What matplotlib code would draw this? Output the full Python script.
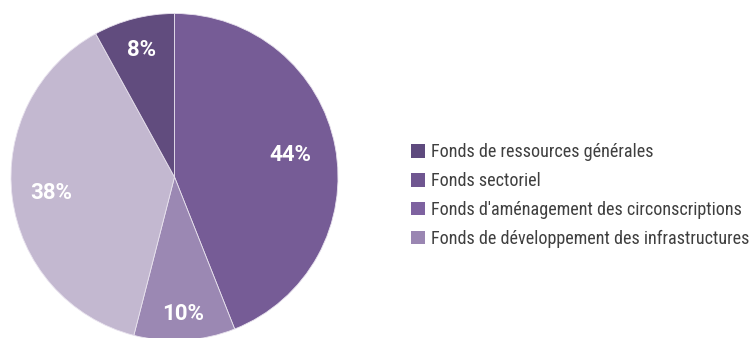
import numpy as np
import matplotlib.pyplot as plt
from matplotlib.patches import Patch

# wedges, clockwise from 12 o'clock
shares = [44, 10, 38, 8]
pie_colors = ["#765c96", "#9b88b3", "#c3b8d0", "#614c7e"]
label_radius = [0.72, 0.84, 0.76, 0.80]

legend_labels = ["Fonds de ressources générales", "Fonds sectoriel",
                 "Fonds d'aménagement des circonscriptions",
                 "Fonds de développement des infrastructures"]
legend_colors = ["#5e4a7e", "#6f5690", "#7e62a0", "#9a86b2"]

plt.rcParams['font.family'] = ['Roboto', 'DejaVu Sans']

fig = plt.figure(figsize=(7.55, 3.38), dpi=100)
ax = fig.add_axes([11/755, -2.5/338, 327/755, 327/338])

wedges, _ = ax.pie(shares, colors=pie_colors, startangle=90, counterclock=False,
                   radius=1.0, wedgeprops=dict(linewidth=0.6, edgecolor="#e8e2ee"))
ax.set_xlim(-1, 1)
ax.set_ylim(-1, 1)
ax.set_aspect("equal")

for w, v, r in zip(wedges, shares, label_radius):
    ang = np.deg2rad((w.theta1 + w.theta2) / 2)
    ax.text(r*np.cos(ang), r*np.sin(ang), f"{v}%", color="white",
            fontsize=16, fontweight="bold", ha="center", va="center")

handles = [Patch(facecolor=c, edgecolor="none") for c in legend_colors]
fig.legend(handles, legend_labels, loc="upper left", bbox_to_anchor=(402/755, 1-134/338),
           frameon=False, prop=dict(family=["Roboto Condensed", "Roboto"], size=13.1),
           handlelength=0.78, handleheight=0.78,
           handletextpad=0.3, labelspacing=0.6, borderpad=0, labelcolor="#3f3f3f")

fig.savefig("out.png", dpi=100)
